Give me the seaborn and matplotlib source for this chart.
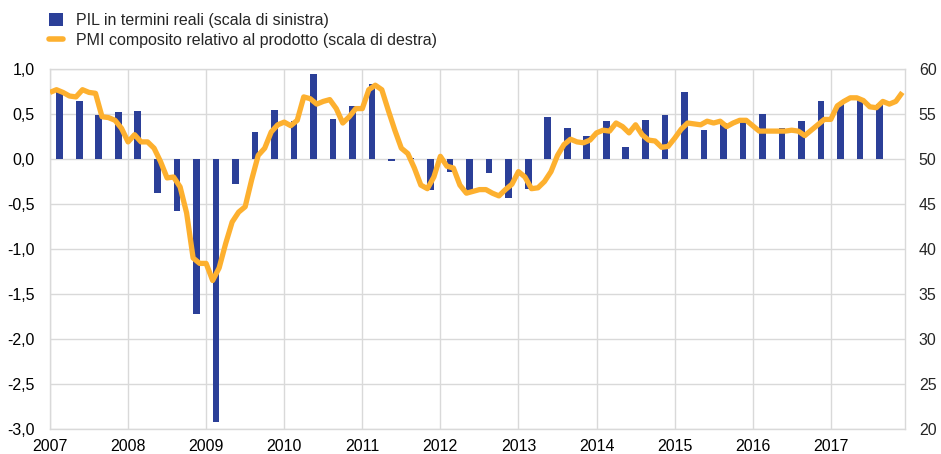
import pandas as pd
import matplotlib
matplotlib.use("Agg")
import matplotlib.pyplot as plt
import seaborn as sns
from matplotlib.patches import Patch
from matplotlib.lines import Line2D
from matplotlib.ticker import FuncFormatter, MultipleLocator

# Quarterly real GDP growth (left scale), 2007Q1 - 2017Q3
gdp_quarters = pd.period_range("2007Q1", "2017Q3", freq="Q")
gdp = [0.75, 0.64, 0.49, 0.52,
       0.53, -0.38, -0.58, -1.72,
       -2.92, -0.28, 0.30, 0.55,
       0.42, 0.95, 0.44, 0.59,
       0.83, -0.02, 0.01, -0.34,
       -0.14, -0.36, -0.15, -0.43,
       -0.33, 0.47, 0.35, 0.26,
       0.42, 0.13, 0.43, 0.49,
       0.75, 0.32, 0.40, 0.46,
       0.50, 0.34, 0.42, 0.65,
       0.62, 0.66, 0.61]

# Monthly composite output PMI (right scale), Jan 2007 - Dec 2017
pmi_months = pd.period_range("2007-01", "2017-12", freq="M")
pmi = [57.4, 57.7, 57.4, 57.0, 56.9, 57.7, 57.4, 57.3, 54.7, 54.6, 54.3, 53.4,
       51.9, 52.7, 51.9, 51.9, 51.2, 49.7, 47.9, 48.0, 46.9, 44.0, 39.0, 38.4,
       38.4, 36.5, 37.9, 40.6, 43.0, 44.1, 44.7, 47.7, 50.4, 51.2, 53.0, 53.8,
       54.1, 53.7, 54.3, 56.9, 56.7, 56.1, 56.4, 56.6, 55.6, 54.0, 54.7, 55.6,
       55.6, 57.7, 58.2, 57.7, 55.4, 53.2, 51.2, 50.6, 49.0, 47.1, 46.7, 48.0,
       50.3, 49.2, 49.0, 47.1, 46.2, 46.4, 46.6, 46.6, 46.2, 45.9, 46.6, 47.2,
       48.6, 48.0, 46.7, 46.8, 47.5, 48.6, 50.4, 51.6, 52.2, 51.9, 51.8, 52.1,
       52.9, 53.2, 53.1, 54.0, 53.6, 52.9, 53.8, 52.7, 52.1, 52.0, 51.3, 51.4,
       52.3, 53.3, 54.0, 53.9, 53.8, 54.2, 54.0, 54.2, 53.6, 54.0, 54.3, 54.3,
       53.7, 53.1, 53.1, 53.1, 53.1, 53.1, 53.2, 53.1, 52.6, 53.2, 53.8, 54.4,
       54.4, 55.9, 56.4, 56.8, 56.8, 56.5, 55.8, 55.7, 56.4, 56.1, 56.4, 57.4]

years = list(range(2007, 2018))

BLUE = "#2b3f98"
ORANGE = "#fdb02f"
GRID = "#d9d9d9"

gdp_df = pd.DataFrame({
    "t": [p.year + (p.quarter - 1) / 4 + 0.125 for p in gdp_quarters],
    "gdp": gdp,
})
pmi_df = pd.DataFrame({
    "t": [p.year + (p.month - 1) / 12 for p in pmi_months],
    "pmi": pmi,
})

sns.set_style("white")
plt.rcParams["font.family"] = ["Liberation Sans", "DejaVu Sans"]

fig = plt.figure(figsize=(9.41, 4.54), dpi=100)
ax = fig.add_axes([0.0531, 0.0551, 0.9086, 0.7929])

sns.barplot(data=gdp_df, x="t", y="gdp", native_scale=True, width=0.34,
            color=BLUE, saturation=1, edgecolor="none", linewidth=0,
            ax=ax, zorder=2)
ax.set_xlim(2007, 2017.95)
ax.set_ylim(-3, 1)
ax.yaxis.set_major_locator(MultipleLocator(0.5))
ax.yaxis.set_major_formatter(FuncFormatter(lambda v, _: f"{v:.1f}".replace(".", ",")))
ax.set_xticks(years)
ax.set_xticklabels([str(y) for y in years])
ax.grid(True, color=GRID, lw=1, zorder=0)
ax.set_axisbelow(True)
ax.set_xlabel("")
ax.set_ylabel("")
for s in ax.spines.values():
    s.set_color(GRID)
    s.set_linewidth(1)
ax.tick_params(axis="both", length=0, labelsize=11.5, colors="#000000")
ax.tick_params(axis="x", pad=7)
ax.tick_params(axis="y", pad=11)

ax2 = ax.twinx()
sns.lineplot(data=pmi_df, x="t", y="pmi", color=ORANGE, lw=3.8, ax=ax2,
             solid_capstyle="butt", zorder=3)
ax2.set_ylim(20, 60)
ax2.set_xlim(2007, 2017.95)
ax2.yaxis.set_major_locator(MultipleLocator(5))
ax2.set_ylabel("")
ax2.grid(False)
for s in ax2.spines.values():
    s.set_visible(False)
ax2.tick_params(axis="y", length=0, labelsize=11.5, pad=10)

handles = [Patch(facecolor=BLUE, edgecolor="none"),
           Line2D([], [], color=ORANGE, lw=4)]
labels = ["PIL in termini reali (scala di sinistra)",
          "PMI composito relativo al prodotto (scala di destra)"]
fig.legend(handles, labels, loc="upper left", bbox_to_anchor=(0.045, 0.985),
           frameon=False, fontsize=11.5, handlelength=0.9, handleheight=0.9,
           handletextpad=0.8, labelspacing=0.3, borderaxespad=0)

fig.savefig("out.png", dpi=100)
